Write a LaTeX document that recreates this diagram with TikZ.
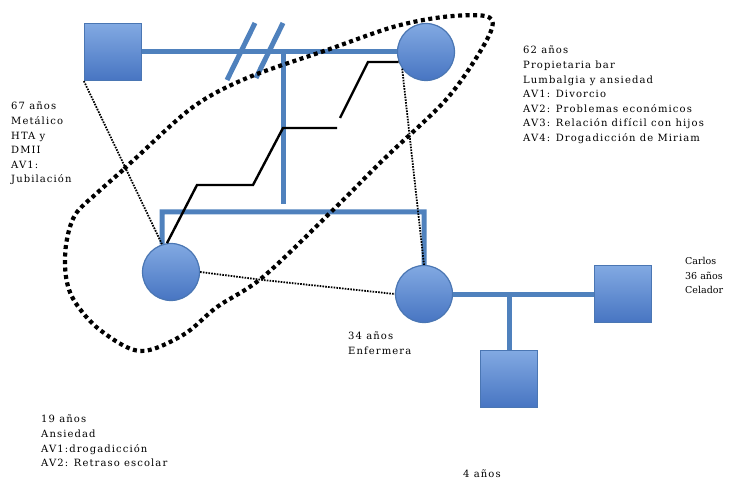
\documentclass[tikz,border=0pt]{standalone}
\usepackage{fontspec}
\setmainfont[LetterSpace=11]{DejaVu Serif}
\usetikzlibrary{arrows}
\definecolor{genBlue}{HTML}{4F81BD}
\definecolor{genTop}{HTML}{82A9E2}
\definecolor{genBot}{HTML}{4775C2}
\definecolor{genEdge}{HTML}{4A76B3}
\tikzset{
  genNode/.style = {top color=genTop, bottom color=genBot, draw=genEdge,
    line width=1.2pt, minimum size=57pt, inner sep=0pt},
  gen_m/.style = {genNode, rectangle},
  gen_f/.style = {genNode, circle},
    % hombre cuadrado, mujer circulo
  gen_rel/.style = {genBlue, line width=5pt},
  gen_conf/.style = {black, line width=2.4pt},
  gen_dist/.style = {black, line width=1.8pt, dash pattern=on 1.6pt off 1.2pt},
  gen_grupo/.style = {black, line width=4.2pt, dash pattern=on 4pt off 3.5pt},
  genTxt/.style = {anchor=north west, align=left, inner sep=0pt,
    font=\fontsize{10}{14.6}\selectfont}
}

\begin{document}
\begin{tikzpicture}[x=1pt, y=-1pt, >=stealth']
\useasboundingbox (0,0) rectangle (731,481);
\node[gen_m] (padre) at (113,52) {};
\node[gen_f] (madre) at (426,52) {};
\node[gen_f] (miriam) at (171,272) {};
\node[gen_f] (enfermera) at (424,294) {};
\node[gen_m] (carlos) at (623,294) {};
\node[gen_m] (nieto) at (509,379) {};
\coordinate (rama) at (283,204);
\coordinate (fratL) at (162,212);
\coordinate (fratR) at (424,212);
\coordinate (rama2) at (509,294);

% divorcio
\draw[gen_rel] (padre.east) -- (madre.west);
\draw[gen_rel] (227,80) -- (255,23) (256,78) -- (283,23);
\draw[gen_rel] (rama |- madre) -- (rama);
\draw[gen_rel] (miriam.108) -- (fratL) -- (fratR) -- (enfermera.north);
\draw[gen_rel] (enfermera.east) -- (carlos.west);
\draw[gen_rel] (rama2) -- (nieto.north);

% conflicto
\draw[gen_conf] (madre.200) -- (368,62) -- (340,118);
\draw[gen_conf] (337,128) -- (283,128) -- (253,185) -- (197,185) -- (miriam.98);

% relaciones distantes
\draw[gen_dist] (padre.south west) -- (miriam.108);
\draw[gen_dist] (madre.215) -- (enfermera.north);
\draw[gen_dist] (miriam.east) -- (263,280) -- (enfermera.west);

\draw[gen_grupo] plot[smooth cycle, tension=0.55] coordinates {(137,157) (123,170)
  (97,193) (75,215) (66,245) (66,277) (75,302) (100,330) (140,351) (183,335)
  (217,307) (263,277) (333,210) (385,158) (443,103) (473,63) (492,28) (485,16)
  (443,17) (393,27) (327,50) (247,78) (193,107)};

\node[genTxt] (txtPadre) at (11,102) {67 años\\Metálico\\HTA y\\DMII\\AV1:\\Jubilación};
\node[genTxt] (txtMadre) at (523,46) {62 años\\Propietaria bar\\Lumbalgia y ansiedad\\AV1: Divorcio\\AV2: Problemas económicos\\AV3: Relación difícil con hijos\\AV4: Drogadicción de Miriam};
\node[genTxt, font=\fontsize{9.5}{14.6}\selectfont\addfontfeature{LetterSpace=0}] (txtCarlos) at (685,257) {Carlos\\36 años\\Celador};
\node[genTxt] (txtEnf) at (348,332) {34 años\\Enfermera};
\node[genTxt] (txtMiriam) at (41,415) {19 años\\Ansiedad\\AV1:drogadicción\\AV2: Retraso escolar};
\node[genTxt] (txtNieto) at (463,470) {4 años};
\end{tikzpicture}
\end{document}
